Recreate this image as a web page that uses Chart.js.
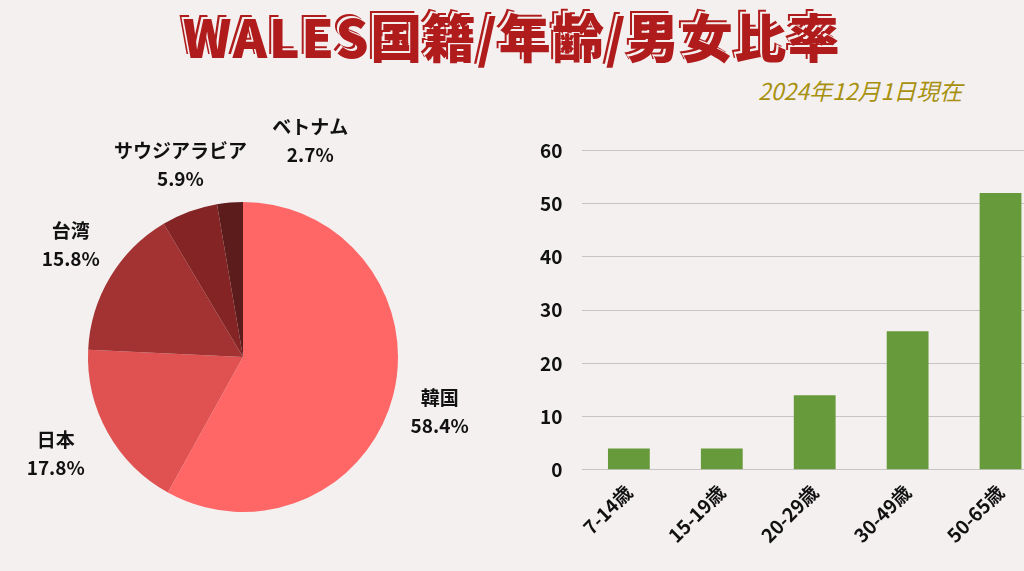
<!DOCTYPE html>
<html><head><meta charset="utf-8">
<script src="https://cdn.jsdelivr.net/npm/chart.js@4"></script>
<style>
html,body{margin:0;padding:0;background:#f4f0f0;width:1024px;height:571px;overflow:hidden;font-family:"Noto Sans CJK JP",sans-serif;}
#title{position:absolute;left:0;width:1024px;top:-2px;text-align:center;font-size:52px;font-weight:900;color:#b01c1c;letter-spacing:1.5px;
text-shadow:-2px -2px 0 #f4f0f0, -4px -4px 0 #b01c1c;font-family:"Noto Sans CJK JP";}
#date{position:absolute;left:758px;top:73px;font-size:23px;font-style:italic;color:#a8900f;font-family:"Noto Sans CJK JP";}
#pieWrap{position:absolute;left:0;top:110px;width:490px;height:461px;}
#barWrap{position:absolute;left:520px;top:119px;width:527px;height:431px;}
</style></head><body>
<div id="title">WALES国籍/年齢/男女比率</div>
<div id="date">2024年12月1日現在</div>
<div id="pieWrap"><canvas id="pie"></canvas></div>
<div id="barWrap"><canvas id="bar"></canvas></div>
<script>
const countries=["韓国","日本","台湾","サウジアラビア","ベトナム"];
const shares=[58.4,17.8,15.8,5.9,2.7];
const pieColors=["#ff6666","#e05252","#a33333","#852424","#5c1c1c"];
const ages=["7-14歳","15-19歳","20-29歳","30-49歳","50-65歳"];
const counts=[4,4,14,26,52];
const yTicks=[0,10,20,30,40,50,60];

const labelPlugin={id:'lbl',afterDraw(c){
  const ctx=c.ctx;const meta=c.getDatasetMeta(0);
  ctx.save();ctx.fillStyle="#111";ctx.textAlign="center";ctx.textBaseline="middle";
  ctx.font="bold 19px 'Noto Sans CJK JP'";
  const offs=[45,40,40,55,55];
  const adj=[[3,5],[-17,2],[-5,-12],[10,5],[85,-7]];
  meta.data.forEach((a,i)=>{
    const ang=(a.startAngle+a.endAngle)/2;const r=a.outerRadius+offs[i];
    let x=a.x+Math.cos(ang)*r+adj[i][0], y=a.y+Math.sin(ang)*r+adj[i][1];
    ctx.fillText(countries[i],x,y-14);ctx.fillText(shares[i].toFixed(1)+"%",x,y+14);
  });ctx.restore();}};

new Chart(document.getElementById('pie'),{type:'pie',
 data:{labels:countries,datasets:[{data:shares,backgroundColor:pieColors,borderWidth:0}]},
 options:{responsive:true,maintainAspectRatio:false,animation:false,
  layout:{padding:{left:88,right:92,top:92,bottom:59}},
  plugins:{legend:{display:false},tooltip:{enabled:false}}},
 plugins:[labelPlugin]});

new Chart(document.getElementById('bar'),{type:'bar',
 data:{labels:ages,datasets:[{data:counts,backgroundColor:"#679a3a",categoryPercentage:0.9,barPercentage:0.5}]},
 options:{responsive:true,maintainAspectRatio:false,animation:false,
  layout:{padding:{top:0,right:0}},
  plugins:{legend:{display:false},tooltip:{enabled:false}},
  scales:{
   y:{min:0,max:60,ticks:{stepSize:10,color:"#111",font:{size:19,weight:'bold',family:"Noto Sans CJK JP"},padding:20},
      grid:{color:"#c8c4c4",drawTicks:false},border:{display:false}},
   x:{grid:{display:false},border:{display:false},
      ticks:{color:"#111",maxRotation:45,minRotation:45,font:{size:19,weight:'bold',family:"Noto Sans CJK JP"}}}
  }}});
</script></body></html>
